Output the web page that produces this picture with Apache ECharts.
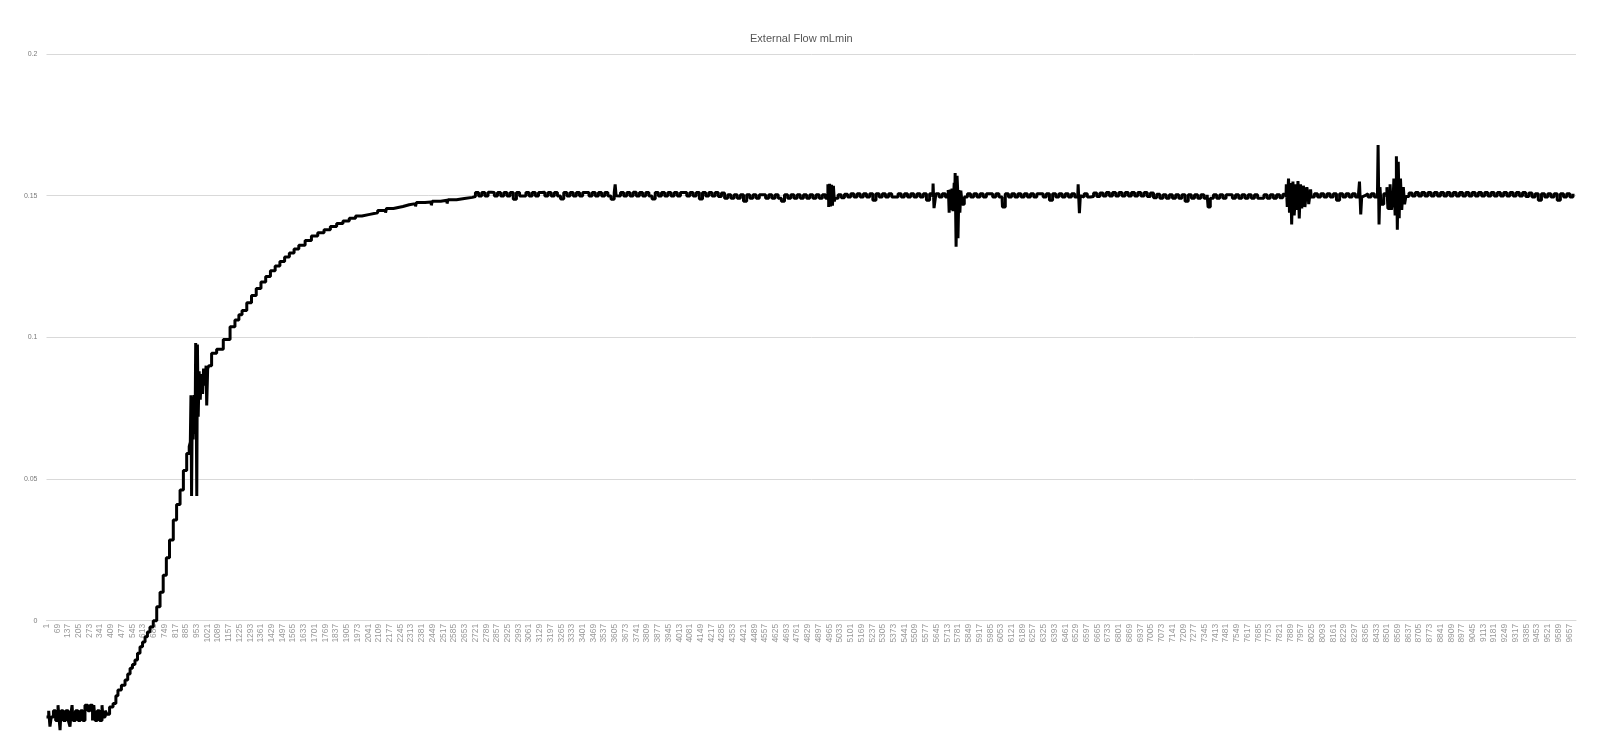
<!DOCTYPE html>
<html>
<head>
<meta charset="utf-8">
<script src="https://cdn.jsdelivr.net/npm/echarts@6/dist/echarts.min.js"></script>
<style>html,body{margin:0;padding:0;background:#fff}#c{width:1622px;height:748px}</style>
</head>
<body>
<div id="c"></div>
<script>
// x = sample index - 1 (labels show index), y = flow (mL/min)
const titleText = 'External Flow mLmin';
const sampleCount = 9700;
const labelEvery = 68;
const yTicks = [0, 0.05, 0.1, 0.15, 0.2];

const baseline = [
  [0,-0.0340],[14,-0.0318],[22,-0.0374],[30,-0.0340],[44,-0.0318],[58,-0.0352],[73,-0.0298],[79,-0.0340],
  [86,-0.0386],[92,-0.0318],[106,-0.0352],[122,-0.0318],[138,-0.0352],[149,-0.0374],[155,-0.0330],[162,-0.0298],
  [168,-0.0352],[184,-0.0318],[200,-0.0352],[216,-0.0318],[230,-0.0352],[244,-0.0298],[262,-0.0318],[276,-0.0298],
  [292,-0.0352],[300,-0.0298],[308,-0.0352],[322,-0.0318],[336,-0.0352],[352,-0.0298],[358,-0.0340],[372,-0.0318],[384,-0.0330]
];

const ramp = [
  [400,-0.0305],[422,-0.0292],[440,-0.0265],[453,-0.0245],[475,-0.0228],[498,-0.0209],[515,-0.0188],[530,-0.0168],
  [545,-0.0155],[561,-0.0139],[577,-0.0115],[593,-0.0092],[609,-0.0075],[625,-0.0057],[640,-0.0040],[656,-0.0022],
  [677,0.0000],[699,0.0049],[720,0.0100],[740,0.0160],[760,0.0222],[780,0.0285],[804,0.0355],[825,0.0410],
  [847,0.0461],[868,0.0530],[889,0.0590],[905,0.0615],[912,0.0630],
  [916,0.0796],[920,0.0440],[925,0.0790],[930,0.0640],[936,0.0796],[942,0.0660],[946,0.0980],[950,0.0700],
  [953,0.0440],[957,0.0975],[962,0.0720],[968,0.0880],[975,0.0780],[982,0.0870],[990,0.0800],[996,0.0890],
  [1004,0.0830],[1012,0.0900],[1016,0.0760],[1022,0.0890],[1030,0.0900],
  [1047,0.0944],[1079,0.0958],[1121,0.0992],[1164,0.1037],[1195,0.1061],[1220,0.1080],[1240,0.1095],[1270,0.1122],
  [1300,0.1148],[1330,0.1172],[1360,0.1195],[1390,0.1215],[1420,0.1235],[1450,0.1252],[1480,0.1268],[1510,0.1284],
  [1540,0.1298],[1570,0.1312],[1600,0.1325],[1640,0.1342],[1680,0.1358],[1720,0.1369],[1760,0.1380],[1800,0.1391],
  [1840,0.1402],[1880,0.1411],[1920,0.1420],[1960,0.1428],[2000,0.1434],[2050,0.1428],[2056,0.1440],[2100,0.1448],
  [2150,0.1440],[2156,0.1455],[2200,0.1462],[2260,0.1468],[2300,0.1472],[2340,0.1462],[2346,0.1476],[2400,0.1478],
  [2440,0.1466],[2446,0.1480],[2500,0.1484],[2540,0.1472],[2546,0.1486],[2600,0.1490],[2650,0.1494]
];

const plateauStart = 2700;
const plateauStep = 20;
const plateauFlow = [
  0.1497,0.1511,0.1499,0.1511,0.1499,0.1512,0.1511,0.1499,0.1511,0.1499,
  0.1511,0.1499,0.1511,0.1487,0.1511,0.1499,0.1499,0.1511,0.1499,0.1511,
  0.1499,0.1511,0.1512,0.1499,0.1511,0.1499,0.1511,0.1499,0.1488,0.1511,
  0.1499,0.1511,0.1499,0.1511,0.1499,0.1511,0.1511,0.1499,0.1511,0.1499,
  0.1511,0.1499,0.1511,0.1499,0.1487,0.1511,0.1499,0.1511,0.1499,0.1511,
  0.1499,0.1512,0.1499,0.1511,0.1499,0.1511,0.1499,0.1488,0.1511,0.1499,
  0.1511,0.1499,0.1511,0.1499,0.1511,0.1499,0.1511,0.1511,0.1499,0.1511,
  0.1499,0.1511,0.1488,0.1511,0.1499,0.1511,0.1499,0.1511,0.1497,0.1509,
  0.1491,0.1503,0.1491,0.1503,0.1491,0.1503,0.1480,0.1503,0.1491,0.1503,
  0.1491,0.1503,0.1503,0.1491,0.1503,0.1491,0.1503,0.1491,0.1480,0.1503,
  0.1491,0.1503,0.1491,0.1503,0.1491,0.1503,0.1491,0.1503,0.1491,0.1503,
  0.1491,0.1503,0.1491,0.1480,0.1503,0.1491,0.1503,0.1493,0.1505,0.1495,
  0.1507,0.1495,0.1507,0.1495,0.1507,0.1495,0.1507,0.1484,0.1507,0.1495,
  0.1507,0.1495,0.1507,0.1495,0.1495,0.1507,0.1495,0.1507,0.1495,0.1507,
  0.1495,0.1507,0.1495,0.1507,0.1484,0.1507,0.1495,0.1507,0.1495,0.1507,
  0.1495,0.1507,0.1495,0.1507,0.1495,0.1507,0.1495,0.1507,0.1495,0.1507,
  0.1495,0.1507,0.1495,0.1507,0.1507,0.1495,0.1507,0.1495,0.1484,0.1507,
  0.1495,0.1507,0.1495,0.1507,0.1495,0.1507,0.1495,0.1507,0.1495,0.1507,
  0.1507,0.1495,0.1507,0.1484,0.1507,0.1495,0.1507,0.1495,0.1507,0.1495,
  0.1507,0.1495,0.1507,0.1495,0.1507,0.1495,0.1497,0.1509,0.1497,0.1509,
  0.1499,0.1511,0.1499,0.1511,0.1499,0.1511,0.1499,0.1511,0.1499,0.1511,
  0.1499,0.1511,0.1499,0.1511,0.1497,0.1509,0.1493,0.1505,0.1491,0.1503,
  0.1491,0.1503,0.1491,0.1503,0.1491,0.1503,0.1480,0.1503,0.1491,0.1503,
  0.1491,0.1503,0.1491,0.1503,0.1491,0.1503,0.1491,0.1503,0.1491,0.1503,
  0.1503,0.1491,0.1503,0.1491,0.1503,0.1491,0.1503,0.1491,0.1503,0.1491,
  0.1491,0.1503,0.1491,0.1503,0.1491,0.1503,0.1493,0.1505,0.1495,0.1507,
  0.1495,0.1507,0.1495,0.1507,0.1495,0.1507,0.1495,0.1507,0.1495,0.1507,
  0.1495,0.1507,0.1495,0.1507,0.1484,0.1507,0.1495,0.1507,0.1495,0.1507,
  0.1495,0.1507,0.1495,0.1507,0.1495,0.1507,0.1495,0.1507,0.1495,0.1507,
  0.1495,0.1507,0.1495,0.1507,0.1495,0.1507,0.1497,0.1509,0.1499,0.1511,
  0.1499,0.1511,0.1499,0.1511,0.1499,0.1511,0.1499,0.1511,0.1499,0.1511,
  0.1499,0.1511,0.1499,0.1511,0.1499,0.1511,0.1499,0.1511,0.1499,0.1511,
  0.1499,0.1511,0.1499,0.1511,0.1499,0.1511,0.1499,0.1511,0.1499,0.1511,
  0.1499,0.1511,0.1499,0.1511,0.1497,0.1509,0.1495,0.1507,0.1484,0.1507,
  0.1495,0.1507,0.1495,0.1507,0.1484,0.1507,0.1495,0.1507,0.1495,0.1507
];

const plateauSpikes = [
  [3606,0.1540],[3612,0.1500],
  [4955,0.1540],[4960,0.1460],[4966,0.1542],[4972,0.1462],[4978,0.1538],[4984,0.1465],[4990,0.1535],[4996,0.1480],
  [5622,0.1543],[5628,0.1456],
  [5718,0.1520],[5724,0.1440],[5730,0.1522],[5736,0.1450],[5742,0.1525],[5748,0.1445],[5756,0.1545],[5762,0.1580],
  [5768,0.1320],[5774,0.1570],[5780,0.1350],[5786,0.1520],[5792,0.1440],[5798,0.1518],[5806,0.1470],
  [6062,0.1460],
  [6542,0.1540],[6550,0.1438],[6556,0.1500],
  [7366,0.1460],
  [7862,0.1540],[7868,0.1460],[7876,0.1560],[7882,0.1440],[7890,0.1545],[7896,0.1398],[7904,0.1550],[7912,0.1430],
  [7920,0.1540],[7928,0.1450],[7936,0.1552],[7944,0.1420],[7952,0.1540],[7960,0.1455],[7970,0.1535],[7980,0.1460],
  [7992,0.1530],[8004,0.1470],[8016,0.1522],
  [8326,0.1550],[8334,0.1434],[8342,0.1500],
  [8444,0.1679],[8450,0.1398],[8456,0.1530],[8462,0.1470],
  [8500,0.1530],[8506,0.1455],[8520,0.1540],[8528,0.1450],[8544,0.1560],[8552,0.1430],[8560,0.1639],[8566,0.1380],
  [8572,0.1620],[8578,0.1420],[8586,0.1560],[8594,0.1450],[8604,0.1530],[8612,0.1470]
];

const plateau = plateauFlow.map((v, k) => [plateauStart + k * plateauStep, v]);
const flowData = baseline.concat(ramp, plateau, plateauSpikes)
  .map((p, i) => ({p, i}))
  .sort((a, b) => a.p[0] - b.p[0] || a.i - b.i)
  .map(o => o.p);

const chart = echarts.init(document.getElementById('c'), null, {renderer: 'canvas'});
chart.setOption({
  animation: false,
  backgroundColor: '#ffffff',
  textStyle: {fontFamily: 'Liberation Sans, Arial, sans-serif'},
  title: {
    text: titleText,
    left: 745, top: 28,
    textStyle: {fontSize: 11, fontWeight: 'normal', color: '#555555', fontFamily: 'Liberation Sans, Arial, sans-serif'}
  },
  grid: {left: 46.5, right: 46, top: 54, bottom: 127.3, containLabel: false},
  xAxis: {
    type: 'value',
    min: 0, max: sampleCount - 1,
    interval: labelEvery,
    axisLine: {show: true, lineStyle: {color: '#d9d9d9', width: 1}},
    axisTick: {show: false},
    splitLine: {show: false},
    axisLabel: {
      rotate: 90, fontSize: 8.5, color: '#999999', margin: 3,
      showMaxLabel: false,
      formatter: v => String(v + 1)
    }
  },
  yAxis: {
    type: 'value',
    min: yTicks[0], max: yTicks[yTicks.length - 1],
    interval: yTicks[1] - yTicks[0],
    axisLine: {show: false},
    axisTick: {show: false},
    splitLine: {lineStyle: {color: '#d9d9d9', width: 1}},
    axisLabel: {fontSize: 7, color: '#7a7a7a', margin: 9}
  },
  series: [{
    type: 'line',
    name: 'External Flow',
    data: flowData,
    step: 'end',
    showSymbol: false,
    symbol: 'none',
    clip: false,
    sampling: null,
    lineStyle: {color: '#000000', width: 3, join: 'bevel', cap: 'butt'},
    z: 5
  }]
});
</script>
</body>
</html>
